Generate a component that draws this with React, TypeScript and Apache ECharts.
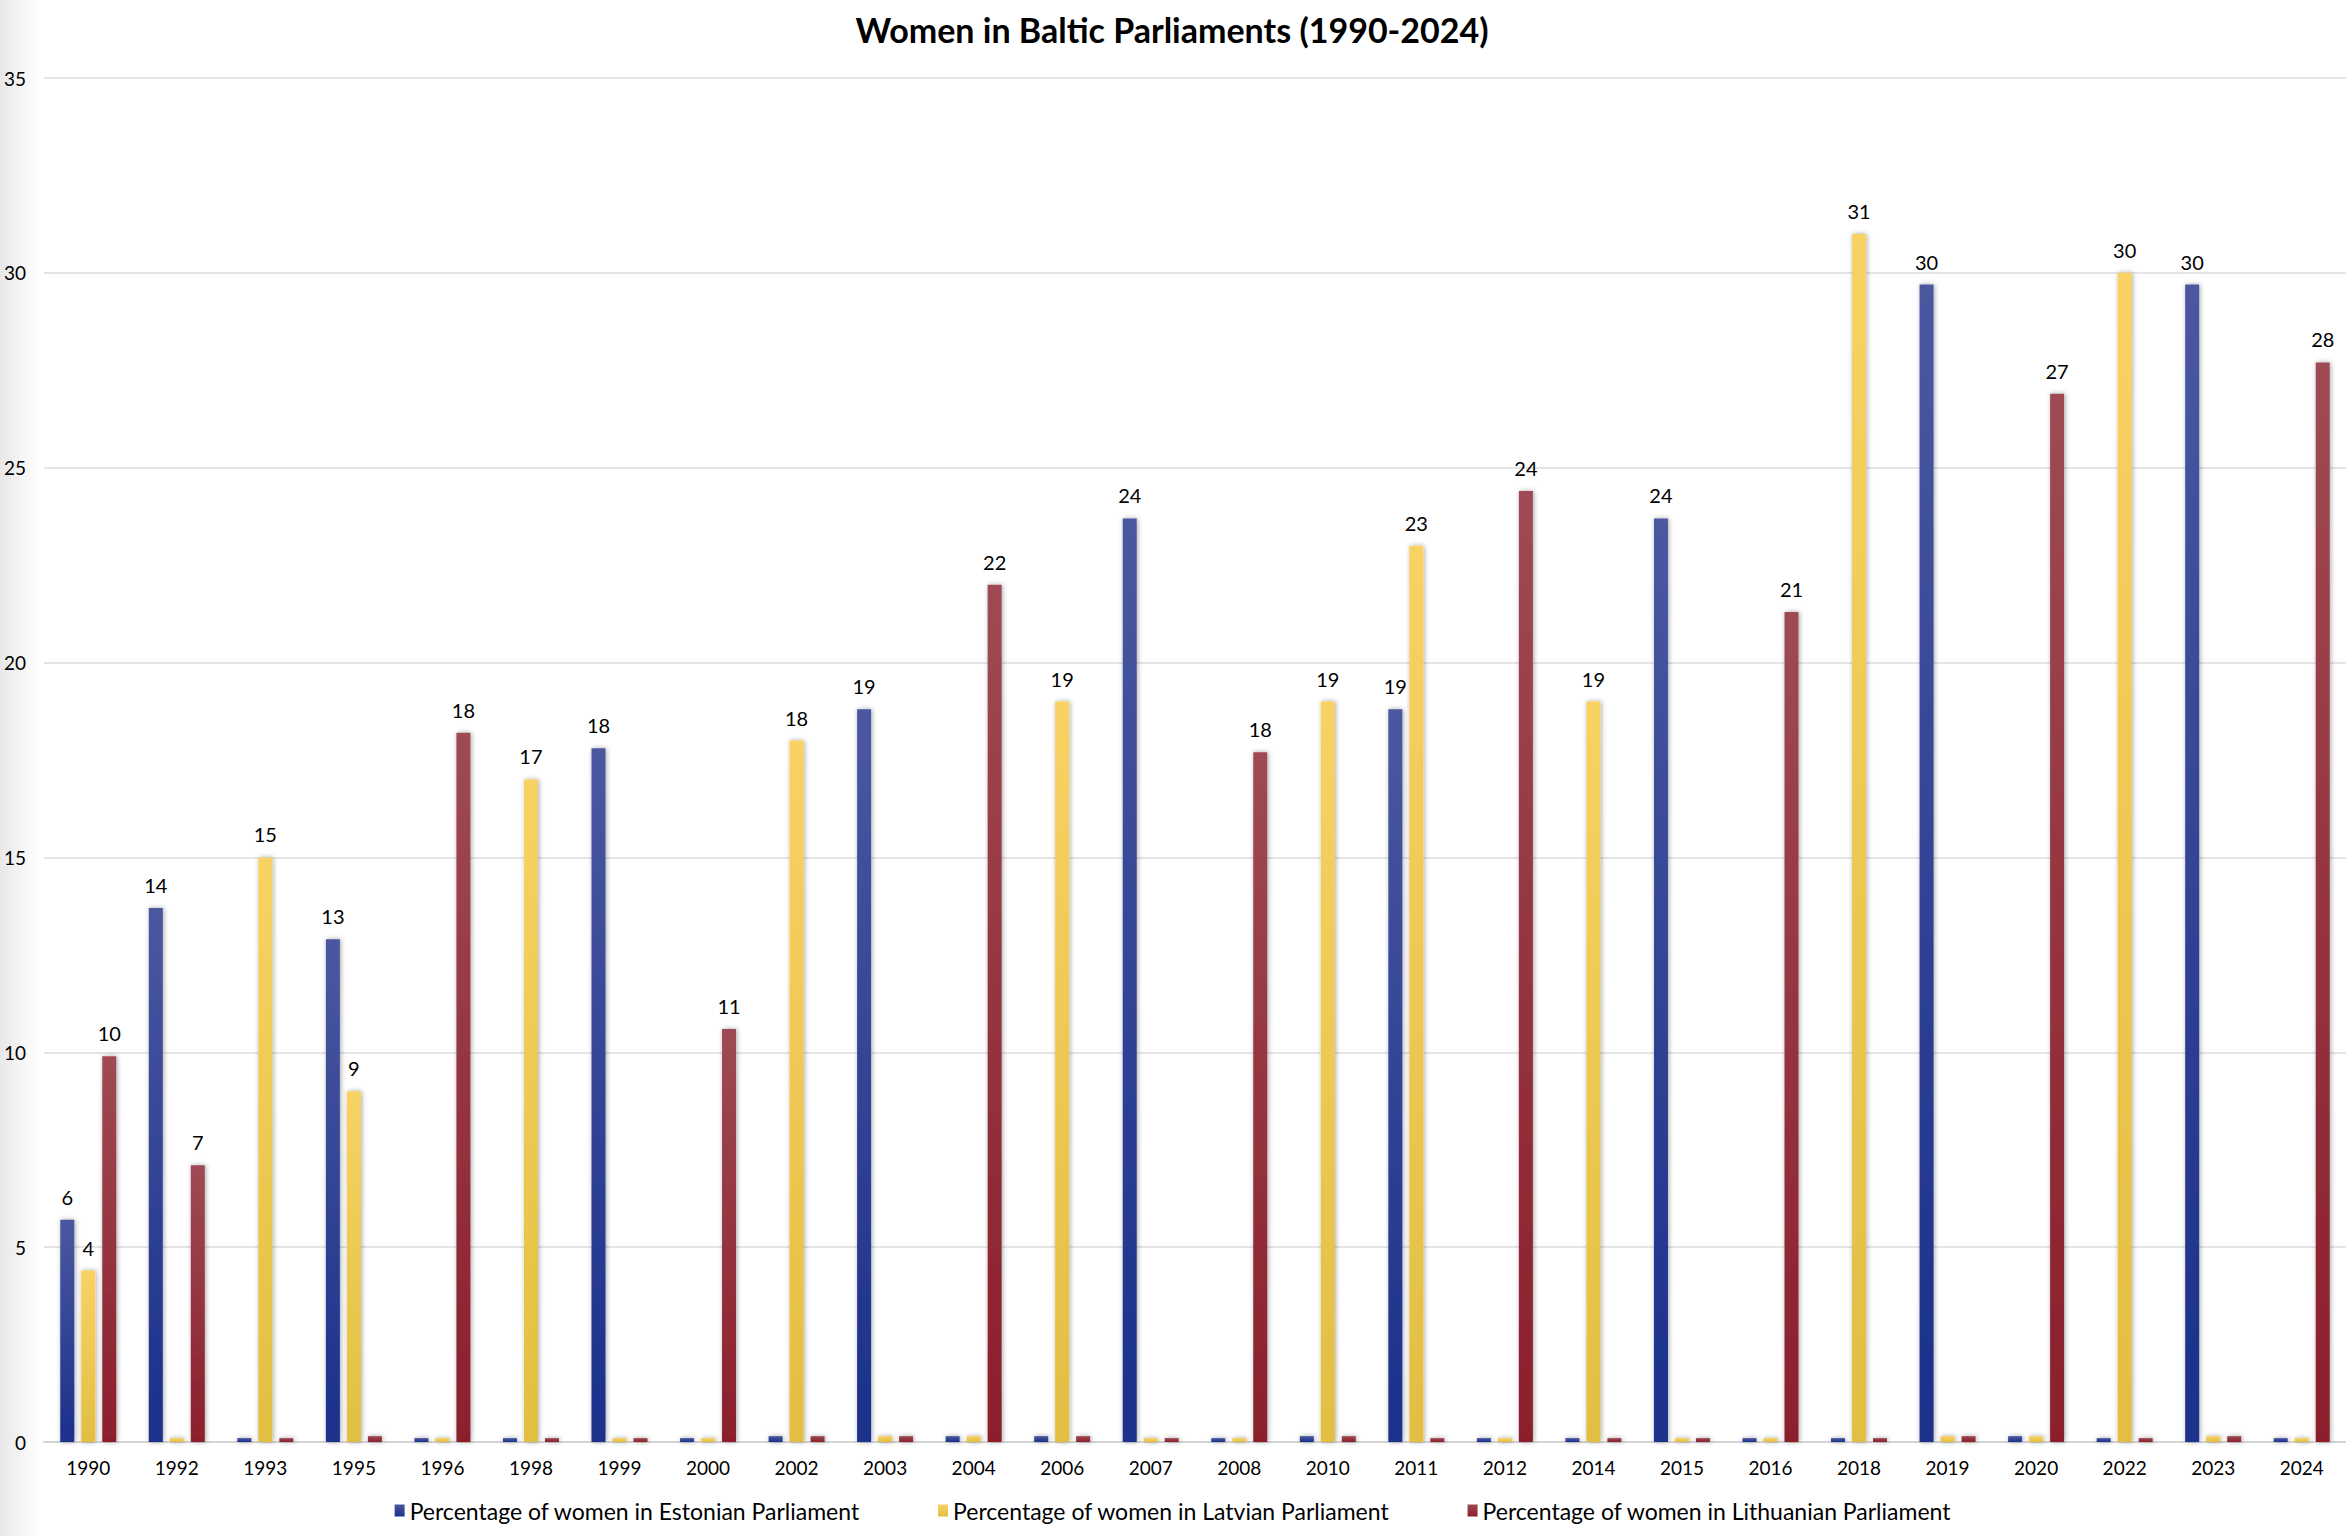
import React, { useEffect, useRef } from "react";
import * as echarts from "echarts";

const years = ["1990","1992","1993","1995","1996","1998","1999","2000","2002","2003","2004","2006","2007","2008","2010","2011","2012","2014","2015","2016","2018","2019","2020","2022","2023","2024"];

const estonia = [5.7,13.7,0.1,12.9,0.1,0.1,17.8,0.1,0.15,18.8,0.15,0.15,23.7,0.1,0.15,18.8,0.1,0.1,23.7,0.1,0.1,29.7,0.15,0.1,29.7,0.1];
const latvia = [4.4,0.1,15.0,9.0,0.1,17.0,0.1,0.1,18.0,0.15,0.15,19.0,0.1,0.1,19.0,23.0,0.1,19.0,0.1,0.1,31.0,0.15,0.15,30.0,0.15,0.1];
const lithuania = [9.9,7.1,0.1,0.15,18.2,0.1,0.1,10.6,0.15,0.15,22.0,0.15,0.1,17.7,0.15,0.1,24.4,0.1,0.1,21.3,0.1,0.15,26.9,0.1,0.15,27.7];

const seriesNames = [
  "Percentage of women in Estonian Parliament",
  "Percentage of women in Latvian Parliament",
  "Percentage of women in Lithuanian Parliament",
];

const FONT = "Lato, 'Open Sans', sans-serif";

function grad(top: string, bottom: string) {
  return new echarts.graphic.LinearGradient(0, 0, 0, 1, [
    { offset: 0, color: top },
    { offset: 1, color: bottom },
  ]);
}

export default function App() {
  const ref = useRef<HTMLDivElement>(null);
  useEffect(() => {
    if (!ref.current) return;
    const chart = echarts.init(ref.current, null, { renderer: "svg" });
    const colors = [
      ["#4b58a0", "#1a308b"],
      ["#f8d263", "#e2bf42"],
      ["#9e4a53", "#8b1f2c"],
    ];
    const datas = [estonia, latvia, lithuania];
    const mkSeries = (i: number) => ({
      name: seriesNames[i],
      type: "bar",
      data: datas[i],
      barWidth: 14,
      barGap: "50%",
      itemStyle: {
        color: grad(colors[i][0], colors[i][1]),
        shadowBlur: 5,
        shadowColor: "rgba(0,0,0,0.35)",
        shadowOffsetX: 1,
        shadowOffsetY: 0,
      },
      label: {
        show: true,
        position: "top",
        distance: 13,
        color: "#000",
        fontFamily: FONT,
        fontSize: 20,
        formatter: (p: any) => (p.value >= 1 ? String(Math.round(p.value)) : ""),
      },
    });
    chart.setOption({
      animation: false,
      backgroundColor: "#ffffff",
      title: {
        text: "Women in Baltic Parliaments (1990-2024)",
        left: 1167,
        textAlign: "center",
        top: 7,
        textStyle: { fontFamily: FONT, fontWeight: "bold", fontSize: 34, color: "#000" },
      },
      graphic: [
        {
          type: "rect",
          left: 0,
          top: 0,
          shape: { width: 40, height: 1536 },
          silent: true,
          z: -1,
          style: {
            fill: new echarts.graphic.LinearGradient(0, 0, 1, 0, [
              { offset: 0, color: "rgba(0,0,0,0.09)" },
              { offset: 1, color: "rgba(0,0,0,0)" },
            ]),
          },
        },
      ],
      legend: {
        bottom: 9,
        left: "center",
        itemWidth: 10,
        itemHeight: 12,
        itemGap: 78,
        icon: "rect",
        textStyle: { fontFamily: FONT, fontSize: 23, color: "#000" },
        data: seriesNames,
      },
      grid: { left: 44, right: 0, top: 78, bottom: 94, containLabel: false },
      xAxis: {
        type: "category",
        data: years,
        axisLine: { show: true, lineStyle: { color: "#d4d4d4", width: 2 } },
        axisTick: { show: false },
        axisLabel: { color: "#000", fontFamily: FONT, fontSize: 19, margin: 16 },
      },
      yAxis: {
        type: "value",
        min: 0,
        max: 35,
        interval: 5,
        axisLine: { show: false },
        axisTick: { show: false },
        axisLabel: { color: "#000", fontFamily: FONT, fontSize: 19, margin: 18 },
        splitLine: { lineStyle: { color: "#dcdcdc", width: 1.5 } },
      },
      series: [mkSeries(0), mkSeries(1), mkSeries(2)],
    });
    return () => chart.dispose();
  }, []);
  return (
    <div
      ref={ref}
      style={{ position: "fixed", left: 0, top: 0, width: "100vw", height: "100vh" }}
    />
  );
}
